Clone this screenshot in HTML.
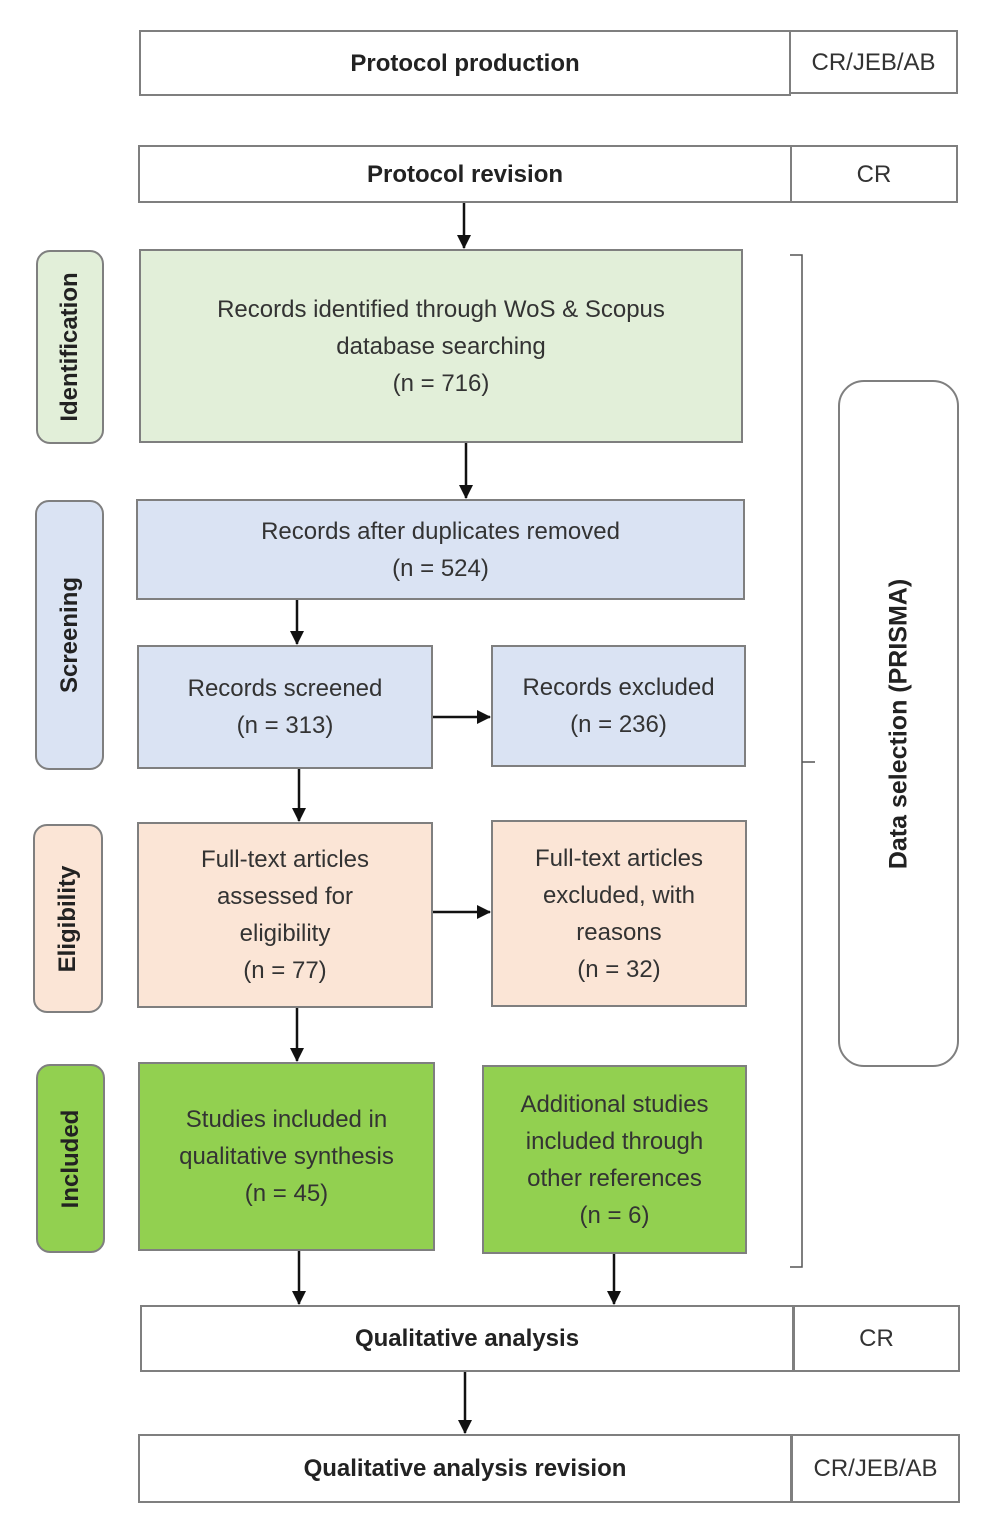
<!DOCTYPE html>
<html><head><style>
body{margin:0;width:990px;height:1524px;background:#fff;position:relative;font-family:"Liberation Sans",sans-serif;color:#333;overflow:hidden}
.b{position:absolute;box-sizing:border-box;border:2px solid #7f7f7f;display:flex;align-items:center;justify-content:center;text-align:center;font-size:24px;line-height:37px}
.h{font-weight:bold;font-size:24px;color:#222}
.lab{position:absolute;box-sizing:border-box;border:2px solid #7f7f7f;border-radius:14px;}
.lab span{position:absolute;left:50%;top:50%;transform:translate(-50%,-50%) rotate(-90deg);font-weight:bold;font-size:24px;white-space:nowrap;color:#222}
.g1{background:#e2efd9}.bl{background:#dae3f3}.pe{background:#fbe5d6}.g2{background:#92d050}
</style></head><body>
<div class="b h" style="left:139px;top:30px;width:652px;height:66px">Protocol production</div>
<div class="b" style="left:789px;top:30px;width:169px;height:64px">CR/JEB/AB</div>
<div class="b h" style="left:138px;top:145px;width:654px;height:58px">Protocol revision</div>
<div class="b" style="left:790px;top:145px;width:168px;height:58px">CR</div>

<div class="lab g1" style="left:36px;top:250px;width:68px;height:194px"><span>Identification</span></div>
<div class="b g1" style="left:139px;top:249px;width:604px;height:194px">Records identified through WoS &amp; Scopus<br>database searching<br>(n = 716)</div>

<div class="lab bl" style="left:35px;top:500px;width:69px;height:270px"><span>Screening</span></div>
<div class="b bl" style="left:136px;top:499px;width:609px;height:101px">Records after duplicates removed<br>(n = 524)</div>
<div class="b bl" style="left:137px;top:645px;width:296px;height:124px">Records screened<br>(n = 313)</div>
<div class="b bl" style="left:491px;top:645px;width:255px;height:122px">Records excluded<br>(n = 236)</div>

<div class="lab pe" style="left:33px;top:824px;width:70px;height:189px"><span>Eligibility</span></div>
<div class="b pe" style="left:137px;top:822px;width:296px;height:186px">Full-text articles<br>assessed for<br>eligibility<br>(n = 77)</div>
<div class="b pe" style="left:491px;top:820px;width:256px;height:187px">Full-text articles<br>excluded, with<br>reasons<br>(n = 32)</div>

<div class="lab g2" style="left:36px;top:1064px;width:69px;height:189px"><span>Included</span></div>
<div class="b g2" style="left:138px;top:1062px;width:297px;height:189px">Studies included in<br>qualitative synthesis<br>(n = 45)</div>
<div class="b g2" style="left:482px;top:1065px;width:265px;height:189px">Additional studies<br>included through<br>other references<br>(n = 6)</div>

<div class="b h" style="left:140px;top:1305px;width:654px;height:67px">Qualitative analysis</div>
<div class="b" style="left:793px;top:1305px;width:167px;height:67px">CR</div>
<div class="b h" style="left:138px;top:1434px;width:654px;height:69px">Qualitative analysis revision</div>
<div class="b" style="left:791px;top:1434px;width:169px;height:69px">CR/JEB/AB</div>

<div class="lab" style="left:838px;top:380px;width:121px;height:687px;border-radius:26px;background:#fff"><span style="font-size:25px">Data selection (PRISMA)</span></div>

<svg width="990" height="1524" style="position:absolute;left:0;top:0" fill="none">
<defs><marker id="a" markerWidth="14" markerHeight="14" refX="13" refY="7" orient="auto" markerUnits="userSpaceOnUse"><path d="M0,0L14,7L0,14z" fill="#111"/></marker></defs>
<g stroke="#111" stroke-width="2.5" marker-end="url(#a)">
<line x1="464" y1="203" x2="464" y2="248"/>
<line x1="466" y1="443" x2="466" y2="498"/>
<line x1="297" y1="600" x2="297" y2="644"/>
<line x1="433" y1="717" x2="490" y2="717"/>
<line x1="299" y1="769" x2="299" y2="821"/>
<line x1="433" y1="912" x2="490" y2="912"/>
<line x1="297" y1="1008" x2="297" y2="1061"/>
<line x1="299" y1="1251" x2="299" y2="1304"/>
<line x1="614" y1="1254" x2="614" y2="1304"/>
<line x1="465" y1="1372" x2="465" y2="1433"/>
</g>
<path d="M790 255 H802 V1267 H790 M802 762 H815" stroke="#555" stroke-width="1.5"/>
</svg>
</body></html>
